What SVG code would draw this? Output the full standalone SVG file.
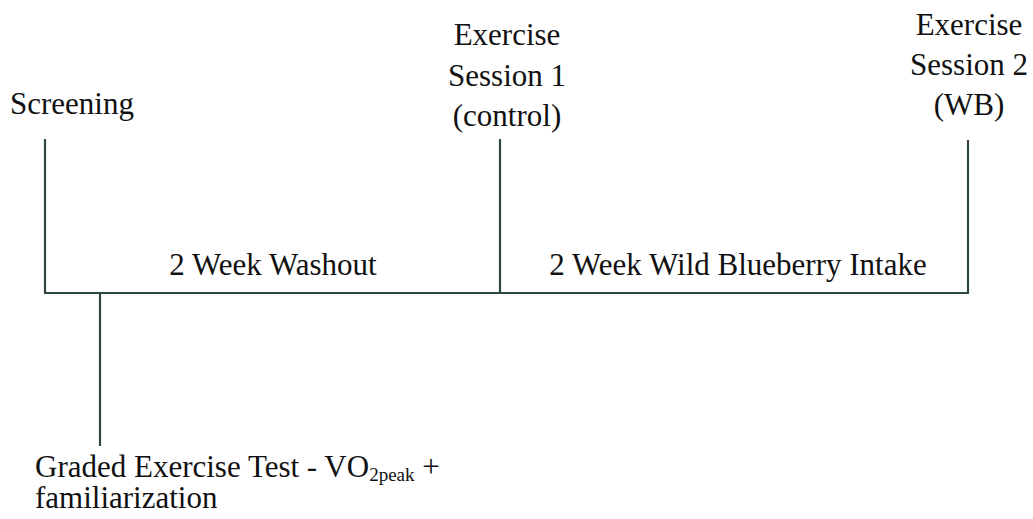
<svg xmlns="http://www.w3.org/2000/svg" width="1033" height="519" viewBox="0 0 1033 519">
<style>
.t{font-family:"Liberation Serif","Times New Roman",serif;font-size:31px;fill:#111}
.c{text-anchor:middle}
.l{stroke:#2d4a3a;stroke-width:2.2;fill:none}
</style>
<rect width="1033" height="519" fill="#fff"/>
<g id="connectors">
<line class="l" x1="45" y1="139" x2="45" y2="293"/>
<line class="l" x1="44" y1="293" x2="969" y2="293"/>
<line class="l" x1="500" y1="139" x2="500" y2="293"/>
<line class="l" x1="968" y1="140" x2="968" y2="293"/>
<line class="l" x1="100" y1="293" x2="100" y2="446"/>
</g>
<g id="screening"><text class="t" x="10" y="114">Screening</text></g>
<g id="session1"><text class="t c" x="507" y="45">Exercise</text><text class="t c" x="507" y="86">Session 1</text><text class="t c" x="507" y="126">(control)</text></g>
<g id="session2"><text class="t c" x="969" y="35">Exercise</text><text class="t c" x="969" y="75">Session 2</text><text class="t c" x="969" y="115">(WB)</text></g>
<g id="washout"><text class="t c" x="273" y="275">2 Week Washout</text></g>
<g id="intake"><text class="t c" x="738" y="275">2 Week Wild Blueberry Intake</text></g>
<g id="graded"><text class="t" x="35" y="477">Graded Exercise Test - VO<tspan font-size="19" dy="4">2peak</tspan><tspan dy="-4"> +</tspan></text><text class="t" x="35" y="508">familiarization</text></g>
</svg>
